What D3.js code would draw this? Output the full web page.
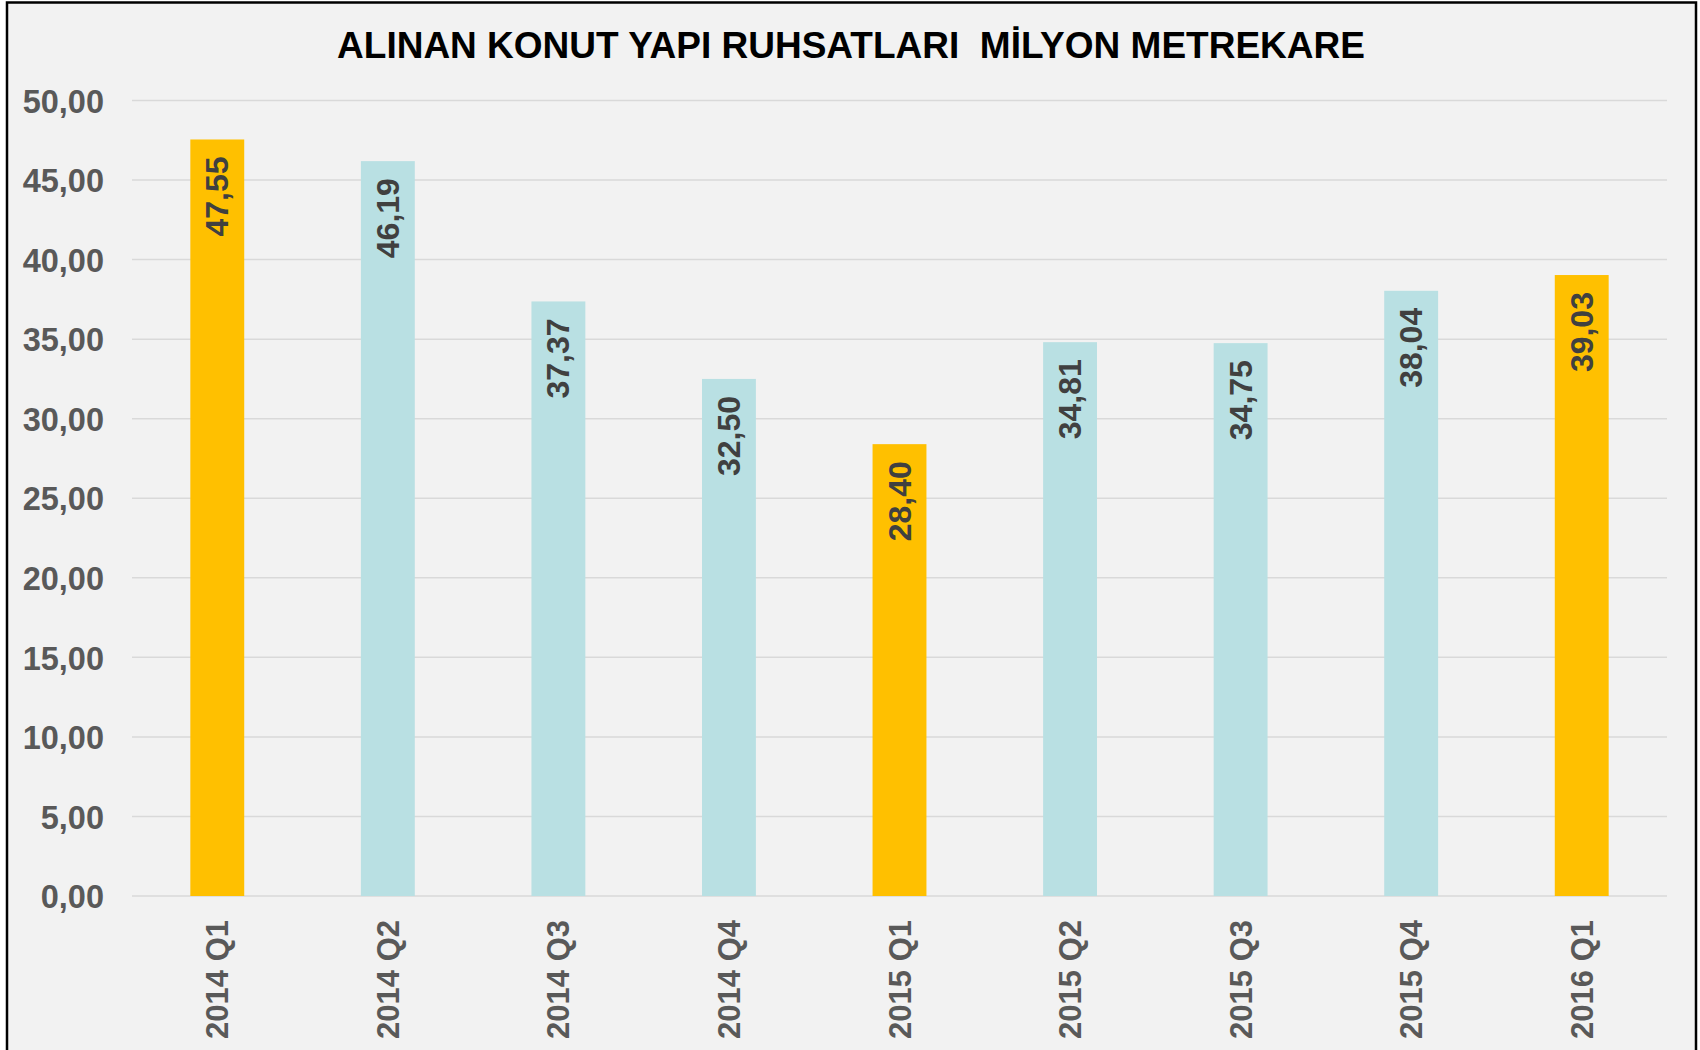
<!DOCTYPE html>
<html>
<head>
<meta charset="utf-8">
<script src="https://cdn.jsdelivr.net/npm/d3@7"></script>
<style>
  body { margin: 0; background: #fff; }
  text { font-family: "Liberation Sans", Arial, sans-serif; font-weight: bold; }
</style>
</head>
<body>
<div id="chart"></div>
<script>
const quarters = ["2014 Q1", "2014 Q2", "2014 Q3", "2014 Q4", "2015 Q1", "2015 Q2", "2015 Q3", "2015 Q4", "2016 Q1"];
const values = [47.55, 46.19, 37.37, 32.50, 28.40, 34.81, 34.75, 38.04, 39.03];
const yTicks = [0, 5, 10, 15, 20, 25, 30, 35, 40, 45, 50];
const title = "ALINAN KONUT YAPI RUHSATLARI  MİLYON METREKARE";

const W = 1700, H = 1050;
const plot = { left: 132, right: 1667, top: 100.5, bottom: 896 };

const fmt = v => v.toFixed(2).replace(".", ",");

const svg = d3.select("#chart").append("svg")
  .attr("width", W)
  .attr("height", H);

// chart area + frame
svg.append("rect")
  .attr("x", 7).attr("y", 2.5)
  .attr("width", 1689).attr("height", 1070)
  .attr("fill", "#f2f2f2")
  .attr("stroke", "#000")
  .attr("stroke-width", 2.5);

const x = d3.scaleBand()
  .domain(quarters)
  .range([plot.left, plot.right])
  .paddingInner(0.684)
  .paddingOuter(0.342);

const y = d3.scaleLinear()
  .domain([0, 50])
  .range([plot.bottom, plot.top]);

// gridlines
svg.append("g")
  .selectAll("line")
  .data(yTicks)
  .join("line")
  .attr("x1", plot.left).attr("x2", plot.right)
  .attr("y1", d => y(d)).attr("y2", d => y(d))
  .attr("stroke", "#d9d9d9")
  .attr("stroke-width", 1.5);

// y axis labels
const yAxis = svg.append("g")
  .attr("transform", "translate(" + (plot.left - 28) + ",0)")
  .call(d3.axisLeft(y).tickValues(yTicks).tickFormat(fmt).tickSize(0).tickPadding(0));
yAxis.select(".domain").remove();
yAxis.selectAll("text")
  .attr("fill", "#595959")
  .style("font-size", "32.5px")
  .style("font-family", "'Liberation Sans', Arial, sans-serif")
  .style("font-weight", "bold")
  .attr("dy", "0.36em");

// bars
svg.append("g")
  .selectAll("rect")
  .data(values)
  .join("rect")
  .attr("x", (d, i) => x(quarters[i]))
  .attr("width", x.bandwidth())
  .attr("y", d => y(d))
  .attr("height", d => y(0) - y(d))
  .attr("fill", (d, i) => quarters[i].endsWith("Q1") ? "#ffc000" : "#b9e0e3");

// data labels (rotated, inside top of bar)
svg.append("g")
  .selectAll("text")
  .data(values)
  .join("text")
  .attr("transform", (d, i) =>
    "translate(" + (x(quarters[i]) + x.bandwidth() / 2 + 11) + "," + (y(d) + 17) + ") rotate(-90)")
  .attr("text-anchor", "end")
  .attr("fill", "#404040")
  .style("font-size", "32px")
  .text(fmt);

// x axis labels
const xAxis = svg.append("g")
  .attr("transform", "translate(0," + plot.bottom + ")")
  .call(d3.axisBottom(x).tickSize(0).tickPadding(0));
xAxis.select(".domain").remove();
xAxis.selectAll("text")
  .attr("transform", "translate(11,24) rotate(-90)")
  .attr("text-anchor", "end")
  .attr("x", 0).attr("y", 0).attr("dy", 0)
  .attr("fill", "#595959")
  .style("font-size", "31px")
  .style("font-family", "'Liberation Sans', Arial, sans-serif")
  .style("font-weight", "bold");

// title
svg.append("text")
  .attr("x", 851)
  .attr("y", 58)
  .attr("text-anchor", "middle")
  .attr("fill", "#000")
  .style("font-size", "37px")
  .style("white-space", "pre")
  .text(title);
</script>
</body>
</html>
